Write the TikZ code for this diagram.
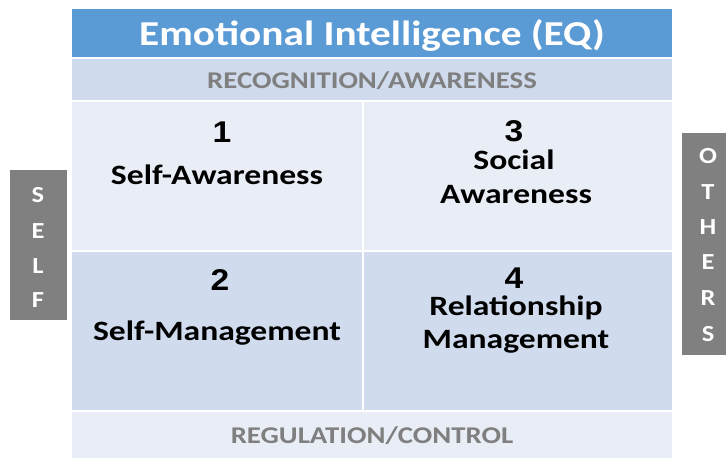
\documentclass[tikz,border=0pt]{standalone}
\usepackage{fontspec}
\setmainfont{Carlito}
% slightly widened faces for the slide text
\newfontfamily\widefont[FakeStretch=1.2]{Carlito}
\newfontfamily\titlefont[FakeStretch=1.18]{Carlito}
\newfontfamily\digitfont[FakeStretch=1.12]{Liberation Sans}
\newfontfamily\sidefont[FakeStretch=1.15]{Carlito}
\definecolor{titleblue}{HTML}{5B9BD5}
\definecolor{bandblue}{HTML}{CFDAEC}
\definecolor{paleblue}{HTML}{E9EDF6}
\definecolor{midblue}{HTML}{D0DCEE}
\definecolor{sidegray}{HTML}{808080}
\definecolor{labelgray}{HTML}{7F7F7F}
\begin{document}
\begin{tikzpicture}[x=1pt,y=-1pt,
  cell/.style={inner sep=0pt, outer sep=0pt},
  numtext/.style={anchor=base, font=\digitfont\bfseries\fontsize{30}{34}\selectfont, text=black},
  celltext/.style={anchor=base, font=\widefont\bfseries\fontsize{28}{32}\selectfont, text=black},
  bandtext/.style={anchor=base, font=\widefont\bfseries\fontsize{24}{28}\selectfont, text=labelgray},
  sidetext/.style={font=\sidefont\bfseries\fontsize{23}{26}\selectfont, text=white}]
  \useasboundingbox (0,0) rectangle (726,458);
  \fill[white] (0,0) rectangle (726,458);
  % header rows
  \fill[titleblue] (72,9) rectangle (672,57);
  \fill[bandblue] (72,59) rectangle (672,100);
  % quadrants
  \fill[paleblue] (72,102) rectangle (362,250);
  \fill[paleblue] (364,102) rectangle (672,250);
  \fill[midblue] (72,252) rectangle (362,410);
  \fill[midblue] (364,252) rectangle (672,410);
  % footer row
  \fill[paleblue] (72,412) rectangle (672,458);
  % side bars
  \fill[sidegray] (10,170) rectangle (67,320);
  \fill[sidegray] (682,133) rectangle (726,355);

  \node[cell, anchor=base, font=\titlefont\bfseries\fontsize{35}{40}\selectfont, text=white] (title) at (372,45) {Emotional Intelligence (EQ)};
  \node[cell, bandtext] (recog) at (372,88) {RECOGNITION/AWARENESS};
  \node[cell, bandtext] (regul) at (372,443) {REGULATION/CONTROL};

  \node[cell, numtext] (n1) at (222,142) {1};
  \node[cell, celltext] (q1) at (217,184) {Self-Awareness};
  \node[cell, numtext] (n3) at (514,141) {3};
  \node[cell, celltext] (q3a) at (514,169) {Social};
  \node[cell, celltext] (q3b) at (516,203) {Awareness};
  \node[cell, numtext] (n2) at (220,290) {2};
  \node[cell, celltext] (q2) at (217,340) {Self-Management};
  \node[cell, numtext] (n4) at (514,288) {4};
  \node[cell, celltext] (q4a) at (516,315) {Relationship};
  \node[cell, celltext] (q4b) at (516,348) {Management};

  \foreach \ch/\yy [count=\i] in {S/195,E/231,L/266,F/300}
    \node[cell, sidetext] (self\i) at (38,\yy) {\ch};
  \foreach \ch/\yy [count=\i] in {O/156,T/192,H/227,E/262,R/298,S/334}
    \node[cell, sidetext] (oth\i) at (708,\yy) {\ch};
\end{tikzpicture}
\end{document}
